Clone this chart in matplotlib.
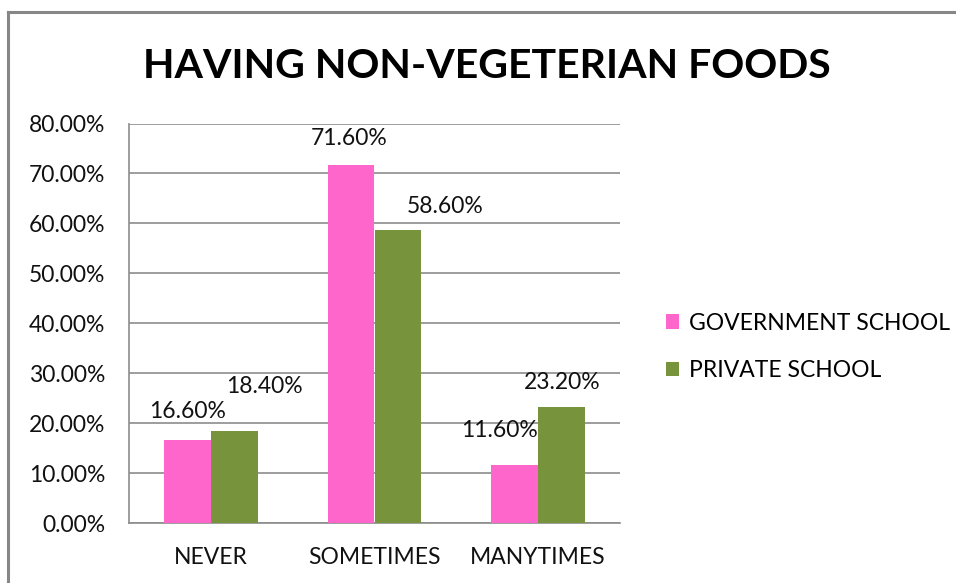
import numpy as np
import matplotlib.pyplot as plt
from matplotlib.lines import Line2D

categories = ["NEVER", "SOMETIMES", "MANYTIMES"]
government = [16.6, 71.6, 11.6]
private = [18.4, 58.6, 23.2]
series_names = ["GOVERNMENT SCHOOL", "PRIVATE SCHOOL"]

PINK = "#FF66CC"
GREEN = "#77933C"
GRID = "#8C8C8C"
FS = 16.5

# label nudges (pixels) relative to the top centre of each bar
GOV_NUDGE = [(0, 29), (-2, 27), (-15, 35)]
PRIV_NUDGE = [(30, 45), (47, 24), (1, 25)]

plt.rcParams["font.family"] = ["Lato", "DejaVu Sans"]

fig = plt.figure(figsize=(9.56, 5.83), dpi=100)
W, H = 956, 583
ax = fig.add_axes([129 / W, 1 - 523 / H, (620 - 129) / W, (523 - 123.5) / H])

x = np.arange(len(categories))
width = 0.287
b1 = ax.bar(x - width / 2, government, width, color=PINK, label=series_names[0], zorder=3)
b2 = ax.bar(x + width / 2, private, width, color=GREEN, label=series_names[1], zorder=3)

for bars, vals, nudges in ((b1, government, GOV_NUDGE), (b2, private, PRIV_NUDGE)):
    for bar, v, (dx, dy) in zip(bars, vals, nudges):
        ax.annotate(f"{v:.2f}%", (bar.get_x() + bar.get_width() / 2, v),
                    xytext=(dx, dy), textcoords="offset pixels",
                    ha="center", va="center", fontsize=FS, color="#111111")

ax.set_xlim(-0.5, 2.5)
ax.set_ylim(0, 80)
ax.set_yticks(np.arange(0, 81, 10))
ax.set_yticklabels([f"{t:.2f}%" for t in np.arange(0, 81, 10)], fontsize=FS)
ax.set_xticks(x)
ax.set_xticklabels(categories, fontsize=FS)
ax.tick_params(axis="both", length=0, colors="#111111")
ax.tick_params(axis="y", pad=17)
ax.tick_params(axis="x", pad=17)

ax.yaxis.grid(True, color=GRID, linewidth=1.2, zorder=0)
ax.set_axisbelow(True)
for side in ("top", "right"):
    ax.spines[side].set_visible(False)
for side in ("left", "bottom"):
    ax.spines[side].set_color(GRID)
    ax.spines[side].set_linewidth(1.2)

fig.text(487 / W, 1 - 66 / H, "HAVING NON-VEGETERIAN FOODS",
         ha="center", va="center", fontsize=29.5, fontweight="bold", color="black")

leg = fig.legend(loc="upper left", bbox_to_anchor=(645 / W, 1 - 292 / H),
                 frameon=False, fontsize=FS, handlelength=0.6, handleheight=0.6,
                 handletextpad=0.4, labelspacing=1.15)

# outer chart border
fig.add_artist(Line2D([8 / W, 8 / W], [0, 1 - 12 / H], transform=fig.transFigure,
                      color="#878787", linewidth=2.2))
fig.add_artist(Line2D([8 / W, 1], [1 - 12 / H, 1 - 12 / H], transform=fig.transFigure,
                      color="#878787", linewidth=2.2))

fig.savefig("out.png", dpi=100)
